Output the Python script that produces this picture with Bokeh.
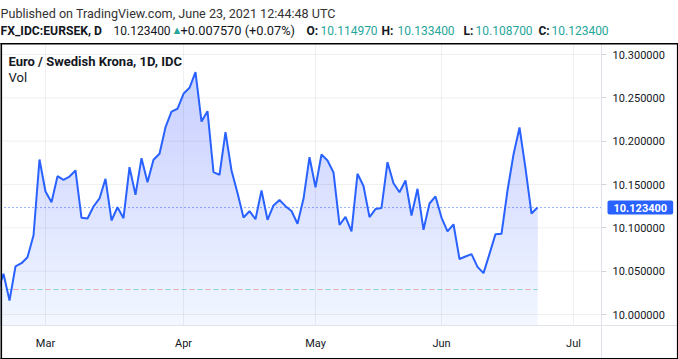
import numpy as np
import pandas as pd
from bokeh.plotting import figure
from bokeh.models import (Range1d, FixedTicker, Label, NumeralTickFormatter,
                          LinearAxis)
from bokeh.embed import file_html
from bokeh.resources import INLINE

# ---------------- data ----------------
start_date = "2021-02-17"
end_date = "2021-06-23"
close = [
    10.0254, 10.0470, 10.0162, 10.0554, 10.0592, 10.0661, 10.0912, 10.1789,
    10.1419, 10.1296, 10.1596, 10.1554, 10.1592, 10.1662, 10.1116, 10.1108,
    10.1246, 10.1339, 10.1566, 10.1085, 10.1238, 10.1111, 10.1700, 10.1381,
    10.1804, 10.1527, 10.1785, 10.1854, 10.2161, 10.2342, 10.2374, 10.2547,
    10.2616, 10.2796, 10.2227, 10.2346, 10.1642, 10.1612, 10.2104, 10.1662,
    10.1402, 10.1119, 10.1192, 10.1100, 10.1431, 10.1093, 10.1258, 10.1321,
    10.1250, 10.1194, 10.1047, 10.1335, 10.1815, 10.1469, 10.1846, 10.1777,
    10.1639, 10.1033, 10.1127, 10.0960, 10.1624, 10.1483, 10.1123, 10.1217,
    10.1229, 10.1757, 10.1515, 10.1411, 10.1546, 10.1142, 10.1450, 10.0977,
    10.1281, 10.1362, 10.1119, 10.0960, 10.1041, 10.0640, 10.0669, 10.0696,
    10.0550, 10.0477, 10.0700, 10.0927, 10.0931, 10.1431, 10.1846, 10.2158,
    10.1685, 10.1165, 10.1234,
]
month_labels = ["Mar", "Apr", "May", "Jun", "Jul"]
month_starts = ["2021-03-01", "2021-04-01", "2021-05-01", "2021-06-01", "2021-07-01"]
price_ticks = [10.00, 10.05, 10.10, 10.15, 10.20, 10.25, 10.30]
vol_line_level = 10.0288

published = "Published on TradingView.com, June 23, 2021 12:44:48 UTC"
symbol = "FX_IDC:EURSEK, D"
series_title = "Euro / Swedish Krona, 1D, IDC"
last_close = 10.123400
change = 0.007570
change_pct = 0.07
open_v, high_v, low_v, close_v = 10.114970, 10.133400, 10.108700, 10.123400

# ---------------- derived ----------------
idx = np.arange(len(close))
ext = pd.bdate_range(start_date, "2021-07-30")
month_idx = [int(np.argmax(ext >= pd.Timestamp(m))) for m in month_starts]
mar_i = month_idx[0]

# pixel <-> data mapping of the whole 678x359 canvas (frame covers it all)
W, H = 678, 359
BAR_PX = 6.0
MAR_PX = 45.0
PX_PER_005 = 43.33
Y10_PX = 314.0


def cx(px):
    return mar_i + (px - MAR_PX) / BAR_PX


def cy(py):
    return 10.0 + (Y10_PX - py) * 0.05 / PX_PER_005


x_lo, x_hi = cx(0), cx(W)
y_lo, y_hi = cy(H), cy(0)
axis_x = cx(601)          # price-scale separator
chart_top = cy(43)
chart_bottom = cy(325)    # time-scale separator

BLUE = "#2962ff"
TEXT = "#131722"
TEAL = "#26a69a"
FONT = "Roboto"

p = figure(width=W, height=H, x_range=Range1d(x_lo, x_hi),
           y_range=Range1d(y_lo, y_hi), toolbar_location=None,
           output_backend="svg", x_axis_type=None, y_axis_type=None,
           min_border=0, background_fill_color="white",
           border_fill_color="white")
p.outline_line_color = None
p.xgrid.visible = False
p.ygrid.visible = False

# area fill (gradient: solid area + white fade layers toward the bottom)
p.varea(x=idx, y1=chart_bottom, y2=close, fill_color=BLUE, fill_alpha=0.27,
        level="image")
fade_top = 10.30
levels = np.linspace(fade_top, chart_bottom, 45, endpoint=False)
target = 0.9 * (fade_top - levels) / (fade_top - chart_bottom)
alphas, prev = [], 0.0
for a in target:
    alphas.append(1 - (1 - a) / (1 - prev))
    prev = a
p.quad(left=x_lo, right=axis_x, top=levels, bottom=chart_bottom,
       fill_color="white", fill_alpha=alphas, line_color=None, level="image")

# grid lines kept inside the chart pane
p.segment(x0=x_lo, x1=axis_x, y0=price_ticks, y1=price_ticks,
          line_color="#2a2e39", line_alpha=0.07, line_width=1, level="image")
p.segment(x0=month_idx, x1=month_idx, y0=chart_bottom, y1=chart_top,
          line_color="#2a2e39", line_alpha=0.07, line_width=1, level="image")

# vol dashed line (alternating teal / pink dashes)
p.segment(x0=idx[0], x1=idx[-1], y0=vol_line_level, y1=vol_line_level,
          line_color="#8fcfc9", line_dash="5 3", line_width=1)
p.segment(x0=idx[0], x1=idx[-1], y0=vol_line_level, y1=vol_line_level,
          line_color="#f0a9a7", line_dash="5 11", line_width=1)

# last price dotted line
p.segment(x0=x_lo, x1=axis_x, y0=last_close, y1=last_close,
          line_color=BLUE, line_dash="1 3", line_width=1)

# price line
p.line(idx, close, line_color=BLUE, line_width=2)

# outer black border of the chart pane + scales (thin filled bars)
p.quad(left=[cx(0), cx(0), cx(676.4), cx(0)],
       right=[cx(W), cx(1.6), cx(W), cx(W)],
       top=[cy(42.4), cy(42.4), cy(42.4), cy(357.4)],
       bottom=[cy(44.0), cy(H), cy(H), cy(H)],
       fill_color="#000000", fill_alpha=1.0, line_color=None,
       level="overlay")

# x axis (time scale) fixed on the pane's bottom edge
xa = LinearAxis(fixed_location=chart_bottom)
xa.ticker = FixedTicker(ticks=month_idx)
xa.major_label_overrides = {i: l for i, l in zip(month_idx, month_labels)}
xa.axis_line_color = "#e0e3eb"
xa.major_tick_line_color = None
xa.minor_tick_line_color = None
xa.major_tick_out = 0
xa.major_tick_in = 0
xa.major_label_standoff = 11
xa.major_label_text_font = FONT
xa.major_label_text_font_size = "11px"
xa.major_label_text_color = TEXT
p.add_layout(xa, "below")

# y axis (price scale) fixed on the pane's right edge
ya = LinearAxis(fixed_location=axis_x, bounds=(y_lo, chart_top))
ya.ticker = FixedTicker(ticks=price_ticks)
ya.formatter = NumeralTickFormatter(format="0.000000")
ya.axis_line_color = "#e0e3eb"
ya.major_tick_line_color = "#d1d4dc"
ya.minor_tick_line_color = None
ya.major_tick_out = 5
ya.major_tick_in = 0
ya.major_label_standoff = 6
ya.major_label_text_font = FONT
ya.major_label_text_font_size = "11px"
ya.major_label_text_color = TEXT
p.add_layout(ya, "right")

# last price tag on the price scale
p.add_layout(Label(x=607, y=last_close, x_units="screen", y_units="data",
                   text=f"{last_close:.6f}", text_color="white",
                   text_font=FONT, text_font_size="11px",
                   text_font_style="bold", text_baseline="middle",
                   text_align="left", background_fill_color=BLUE,
                   padding=(6, 3), border_radius=2))


# header texts (screen units, measured from the canvas bottom)
def hdr(text, px, py, color=TEXT, bold=False, size="12px"):
    p.add_layout(Label(x=px, y=H - py, x_units="screen", y_units="screen",
                       text=text, text_color=color, text_font=FONT,
                       text_font_size=size,
                       text_font_style="bold" if bold else "normal",
                       text_baseline="middle", text_align="left"))


hdr(published, 0, 13, color="#333333", size="12.6px")
hdr(symbol, 0, 30, bold=True, size="12.2px")
hdr(f"{last_close:.6f}", 113, 30)
hdr("\u25B2", 171, 30, color=TEAL, size="11px")
hdr(f"+{change:.6f} (+{change_pct:.2f}%)", 180, 30, size="12.8px")
for lab, val, lx, vx in [("O:", open_v, 306, 320), ("H:", high_v, 381, 397),
                         ("L:", low_v, 463, 475), ("C:", close_v, 538, 551)]:
    hdr(lab, lx, 30, bold=True)
    hdr(f"{val:.6f}", vx, 30, color=TEAL)
hdr(series_title, 8, 61, bold=True, size="13px")
hdr("Vol", 8, 77, size="13px")

open("out.html", "w").write(file_html(p, INLINE))
